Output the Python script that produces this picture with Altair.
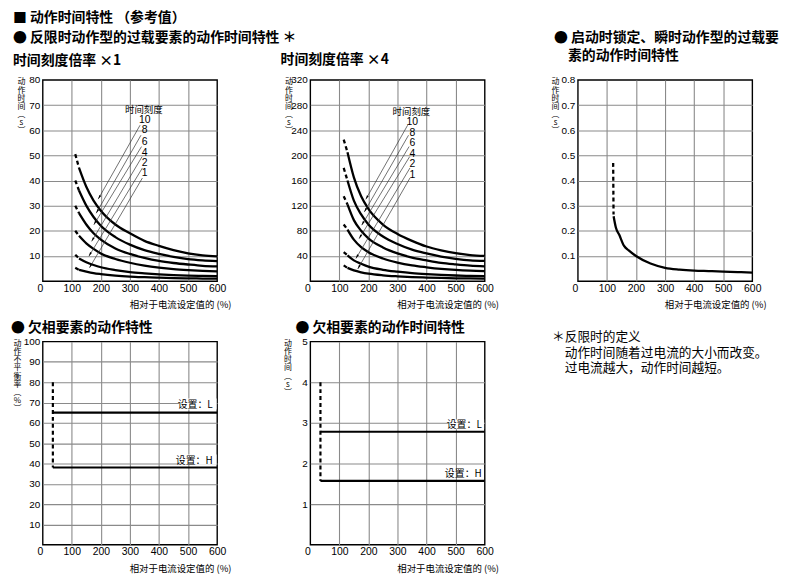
import altair as alt
import pandas as pd

CJK = "Noto Sans CJK SC"
NUM = "'Liberation Sans Narrow', 'Liberation Sans', Arial, sans-serif"

# ---------------- data ----------------
time_scales = ["10", "8", "6", "4", "2", "1"]

# panel 1 : time-scale multiplier x1
p1_x_solid = [125, 150, 175, 200, 250, 300, 350, 400, 450, 500, 550, 600]
p1_curves = {
    "10": [45, 37.5, 32, 28, 22.5, 19, 16, 14, 12.3, 11, 10.2, 9.8],
    "8": [36, 30, 25.5, 22, 17.5, 14.5, 12.3, 10.8, 9.6, 8.7, 8.2, 7.9],
    "6": [27, 22.5, 19, 16.5, 13, 10.8, 9.2, 8, 7.2, 6.6, 6.1, 5.9],
    "4": [18, 15, 12.8, 11, 8.8, 7.3, 6.2, 5.4, 4.8, 4.4, 4.1, 3.9],
    "2": [9, 7.5, 6.4, 5.5, 4.4, 3.6, 3.1, 2.7, 2.4, 2.2, 2.05, 1.95],
    "1": [4.5, 3.8, 3.2, 2.8, 2.2, 1.8, 1.55, 1.35, 1.2, 1.1, 1.02, 0.97],
}
p1_x_dash = [112, 125]
p1_dash_top = [50.5, 40, 30, 20, 10.5, 5.3]
p1_dash_end = [45, 36, 27, 18, 9, 4.5]
p1_tip_x = [191, 184, 176, 168.5, 159, 161]
p1_tip_y = [32.6, 27, 22.4, 15.8, 9.9, 5.3]
p1_lead_x = [335, 338, 340, 342, 343, 343]
p1_lead_y = [62, 58, 53.5, 49.5, 45, 41]
p1_lab_x = [351, 351, 351, 351, 351, 351]
p1_lab_y = [64.2, 60, 55.3, 51, 46.8, 43.1]
p1_head = (348, 67.9)

# panel 2 : time-scale multiplier x4
p2_x_solid = [128, 150, 175, 200, 250, 300, 350, 400, 450, 500, 550, 600]
p2_curves = {
    "10": [205, 165, 135, 115, 90, 75, 64, 55, 49, 44.5, 41.5, 40],
    "8": [160, 128, 106, 90, 71, 59, 50, 44, 39, 35.5, 33, 32],
    "6": [122, 97, 80, 68, 53.5, 44, 37.5, 33, 29, 26.5, 24.5, 23.5],
    "4": [82, 66, 54, 46, 36, 29.5, 25, 22, 19.5, 17.7, 16.5, 15.8],
    "2": [41, 33, 27.5, 23, 18, 15, 12.6, 11, 9.8, 8.9, 8.3, 7.9],
    "1": [21, 17, 14, 11.8, 9.2, 7.6, 6.4, 5.6, 5, 4.5, 4.2, 4],
}
p2_x_dash = [115, 128]
p2_dash_top = [225, 180, 135, 90, 46, 25]
p2_dash_end = [205, 160, 122, 82, 41, 21]
p2_tip_x = [191, 186, 177, 168, 157, 163.5]
p2_tip_y = [130, 110, 89, 67.5, 36, 19.3]
p2_lead_x = [335, 338, 340, 342, 343, 343]
p2_lead_y = [248, 232, 214, 198, 180, 164]
p2_lab_x = [351, 351, 351, 351, 351, 351]
p2_lab_y = [253, 236, 219, 202, 186, 169]
p2_head = (348, 268.8)

# panel 3 : instantaneous type
p3_x_solid = [123, 131, 142, 159, 175, 200, 250, 300, 350, 400, 450, 500, 550, 600]
p3_y_solid = [0.258, 0.212, 0.185, 0.14, 0.122, 0.1, 0.07, 0.053, 0.046, 0.042, 0.04, 0.038, 0.036, 0.034]
p3_x_dash = [121.5, 122.8]
p3_y_dash = [0.47, 0.265]

# panel 4 : open-phase operating characteristic
p4_dash_x = [35, 35]
p4_dash_y = [80, 38]
p4_levels = {"L": 65, "H": 38}
p4_label_y = {"L": 68.8, "H": 41.1}

# panel 5 : open-phase operating time
p5_dash_x = [35, 35]
p5_dash_y = [4, 1.57]
p5_levels = {"L": 2.78, "H": 1.57}
p5_label_y = {"L": 2.94, "H": 1.75}

X_TICKS = [0, 100, 200, 300, 400, 500, 600]
X_TITLE = "相对于电流设定值的 (%)"
Y_TITLE_S = ["动", "作", "时", "间", "︵", "s", "︶"]
Y_TITLE_P = ["动", "作", "不", "平", "衡", "率", "︵", "%", "︶"]

IND = "\u200b\u3000"  # non-trimmed indent
NOTE_LINES = ["＊反限时的定义", IND + "动作时间随着过电流的大小而改变。", IND + "过电流越大，动作时间越短。"]

W = 176
H1 = 203
H2 = 205


# ---------------- helpers ----------------
def x_enc():
    return alt.X(
        "x:Q",
        scale=alt.Scale(domain=[0, 600], nice=False, zero=False),
        axis=alt.Axis(
            values=X_TICKS,
            title=X_TITLE,
            titleAlign="right",
            titleX=W + 14,
            titleY=24,
            titleBaseline="middle",
            titleFont=CJK,
            titleFontSize=9.5,
            titleFontWeight="normal",
            labelFont="Liberation Sans",
            labelFontSize=10.5,
            labelPadding=2,
            labelAlign={"condition": {"test": "datum.value == 0", "value": "right"}, "value": "center"},
            gridOpacity={"condition": {"test": "datum.value == 0 || datum.value == 600", "value": 0}, "value": 1},
        ),
    )


def y_enc(top, ticks, title, title_x, fmt=None):
    kw = {}
    if fmt:
        kw["format"] = fmt
    return alt.Y(
        "y:Q",
        scale=alt.Scale(domain=[0, top], nice=False, zero=True),
        axis=alt.Axis(
            values=ticks,
            title=title,
            titleAngle=0,
            titleAlign="center",
            titleBaseline="top",
            titleX=title_x,
            titleY=-2,
            titleFont=CJK,
            titleFontSize=8,
            titleLineHeight=8.2,
            titleFontWeight="normal",
            labelFont=NUM,
            labelFontSize=10,
            labelPadding=3,
            gridOpacity={"condition": {"test": "datum.value == %s" % top, "value": 0}, "value": 1},
            **kw,
        ),
    )


def curve_df(xs, curves):
    rows = []
    for s, ys in curves.items():
        for xv, yv in zip(xs, ys):
            rows.append({"s": s, "x": xv, "y": yv})
    return pd.DataFrame(rows)


def dash_df(xd, tops, ends):
    rows = []
    for s, a, b in zip(time_scales, tops, ends):
        rows.append({"s": s, "x": xd[0], "y": a})
        rows.append({"s": s, "x": xd[1], "y": b})
    return pd.DataFrame(rows)


ARROW = "M0,0L0.55,2.3L-0.55,2.3Z"


def inverse_panel(xs, curves, xd, tops, ends, tx, ty, lx, ly, labx, laby, head, top, ticks, title):
    X = x_enc()
    Y = y_enc(top, ticks, Y_TITLE_S, -22)
    solid = alt.Chart(curve_df(xs, curves)).mark_line(
        color="black", strokeWidth=2.3, interpolate="monotone"
    ).encode(x=X, y=Y, detail="s:N")
    dashed = alt.Chart(dash_df(xd, tops, ends)).mark_line(
        color="black", strokeWidth=2.3, strokeDash=[4, 3]
    ).encode(x=X, y=Y, detail="s:N")
    lead_df = pd.DataFrame({"x": tx, "y": ty, "x2": lx, "y2": ly})
    leads = alt.Chart(lead_df).mark_rule(color="#333", strokeWidth=0.7).encode(
        x=X, y=Y, x2="x2:Q", y2="y2:Q"
    )
    arrows = alt.Chart(lead_df).mark_point(
        shape=ARROW, filled=True, color="black", size=14, angle=209, opacity=1
    ).encode(x=X, y=Y)
    lab_df = pd.DataFrame({"x": labx, "y": laby, "t": time_scales})
    labels = alt.Chart(lab_df).mark_text(
        font="Liberation Sans", fontSize=10.5, color="black", align="center", baseline="middle"
    ).encode(x=X, y=Y, text="t:N")
    head_df = pd.DataFrame({"x": [head[0]], "y": [head[1]], "t": ["时间刻度"]})
    header = alt.Chart(head_df).mark_text(
        font=CJK, fontSize=9.5, color="black", align="center", baseline="middle"
    ).encode(x=X, y=Y, text="t:N")
    return alt.layer(solid, dashed, leads, arrows, labels, header).properties(
        width=W, height=H1, title=title
    )


TITLE_BASE = dict(anchor="start", frame="group", font=CJK, fontWeight="bold", color="black",
                  baseline="bottom")

# panel 1
p1 = inverse_panel(
    p1_x_solid, p1_curves, p1_x_dash, p1_dash_top, p1_dash_end,
    p1_tip_x, p1_tip_y, p1_lead_x, p1_lead_y, p1_lab_x, p1_lab_y, p1_head,
    80, [10, 20, 30, 40, 50, 60, 70, 80],
    alt.TitleParams(
        text="■ 动作时间特性 （参考值）",
        subtitle=["● 反限时动作型的过载要素的动作时间特性 ＊", "时间刻度倍率 ×1"],
        fontSize=14, subtitleFont=CJK, subtitleFontSize=14, subtitleFontWeight="bold",
        subtitleColor="black", subtitleLineHeight=23, subtitlePadding=6,
        dx=-30, offset=-7, **TITLE_BASE,
    ),
)

# panel 2
p2 = inverse_panel(
    p2_x_solid, p2_curves, p2_x_dash, p2_dash_top, p2_dash_end,
    p2_tip_x, p2_tip_y, p2_lead_x, p2_lead_y, p2_lab_x, p2_lab_y, p2_head,
    320, [40, 80, 120, 160, 200, 240, 280, 320],
    alt.TitleParams(text="时间刻度倍率 ×4", fontSize=14, dx=-30, offset=-6, **TITLE_BASE),
)

# panel 3
X3 = x_enc()
Y3 = y_enc(0.8, [0.1, 0.2, 0.3, 0.4, 0.5, 0.6, 0.7, 0.8], Y_TITLE_S, -23, ".1f")
p3_solid = alt.Chart(pd.DataFrame({"x": p3_x_solid, "y": p3_y_solid})).mark_line(
    color="black", strokeWidth=2.3, interpolate="monotone"
).encode(x=X3, y=Y3)
p3_dash = alt.Chart(pd.DataFrame({"x": p3_x_dash, "y": p3_y_dash})).mark_line(
    color="black", strokeWidth=2.3, strokeDash=[4, 3]
).encode(x=X3, y=Y3)
p3 = alt.layer(p3_solid, p3_dash).properties(
    width=W, height=H1,
    title=alt.TitleParams(
        text=["● 启动时锁定、瞬时动作型的过载要", IND + "素的动作时间特性"],
        fontSize=14, lineHeight=18, dx=-24, offset=-2, **TITLE_BASE,
    ),
)


def phase_panel(dx_, dy_, levels, label_y, label_right, top, ticks, ytitle, ytitle_x, gap_rects, title):
    X = x_enc()
    Y = y_enc(top, ticks, ytitle, ytitle_x)
    rect_df = pd.DataFrame(gap_rects)
    whites = alt.Chart(rect_df).mark_rect(color="white").encode(x=X, x2="x2:Q", y=Y, y2="y2:Q")
    dash = alt.Chart(pd.DataFrame({"x": dx_, "y": dy_})).mark_line(
        color="black", strokeWidth=2.2, strokeDash=[4, 3]
    ).encode(x=X, y=Y)
    lv_rows = []
    for k, v in levels.items():
        lv_rows.append({"k": k, "x": dx_[0], "y": v})
        lv_rows.append({"k": k, "x": 600, "y": v})
    lines = alt.Chart(pd.DataFrame(lv_rows)).mark_line(color="black", strokeWidth=2.2).encode(
        x=X, y=Y, detail="k:N"
    )
    lab_df = pd.DataFrame({
        "x": [label_right, label_right],
        "y": [label_y["L"], label_y["H"]],
        "t": ["设置：L", "设置：H"],
    })
    labs = alt.Chart(lab_df).mark_text(
        font=CJK, fontSize=10, color="black", align="right", baseline="middle"
    ).encode(x=X, y=Y, text="t:N")
    return alt.layer(whites, dash, lines, labs).properties(width=W, height=H2, title=title)


p4 = phase_panel(
    p4_dash_x, p4_dash_y, p4_levels, p4_label_y, 585, 100,
    [10, 20, 30, 40, 50, 60, 70, 80, 90, 100], Y_TITLE_P, -26,
    {"x": [470, 470], "x2": [598, 598], "y": [66.6, 39.4], "y2": [72, 44.4]},
    alt.TitleParams(text="● 欠相要素的动作特性", fontSize=14, dx=-32, offset=-12, **TITLE_BASE),
)
p5 = phase_panel(
    p5_dash_x, p5_dash_y, p5_levels, p5_label_y, 590, 5,
    [1, 2, 3, 4, 5], Y_TITLE_S, -23,
    {"x": [476], "x2": [598], "y": [2.84], "y2": [3.08]},
    alt.TitleParams(text="● 欠相要素的动作时间特性", fontSize=14, dx=-15, offset=-12, **TITLE_BASE),
)

p6 = alt.Chart(pd.DataFrame({"x": [0]})).mark_point(opacity=0).encode(
    x=alt.X("x:Q", axis=None), y=alt.value(0)
).properties(
    width=W, height=H2,
    view=alt.ViewBackground(strokeOpacity=0),
    title=alt.TitleParams(
        text=NOTE_LINES, fontSize=12.8, fontWeight="normal", font=CJK, color="black",
        lineHeight=15.3, anchor="start", frame="group", baseline="top", dx=-26, dy=36, offset=0,
    ),
)

chart = alt.concat(
    p1, p2, p3, p4, p5, p6,
    columns=3,
    spacing={"row": 61, "column": 94},
    bounds="flush",
).properties(
    padding={"left": 2, "top": 0, "right": 2, "bottom": 0},
).configure_view(
    stroke="black", strokeWidth=1.4
).configure_axis(
    grid=True, gridColor="#8a8a8a", gridWidth=1.1, ticks=False, domain=False,
    labelColor="black", titleColor="black",
)

chart.save("out.html", embed_options={"renderer": "svg", "actions": False})
